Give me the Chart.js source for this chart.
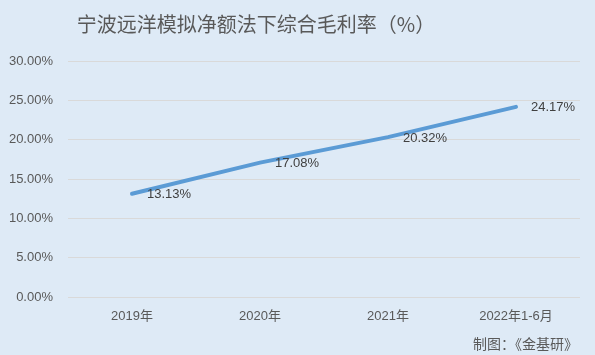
<!DOCTYPE html>
<html>
<head>
<meta charset="utf-8">
<script src="https://cdn.jsdelivr.net/npm/chart.js@4/dist/chart.umd.min.js"></script>
<style>
  html, body { margin: 0; padding: 0; background: #DEEAF6; }
  #wrap { width: 595px; height: 355px; }
</style>
</head>
<body>
<div id="wrap"><canvas id="chart" width="595" height="355"></canvas></div>
<script>
// --- 数据 ---
const categories = ["2019年", "2020年", "2021年", "2022年1-6月"];
const marginValues = [13.13, 17.08, 20.32, 24.17];
const yTicks = [0, 5, 10, 15, 20, 25, 30];

const titleText = "宁波远洋模拟净额法下综合毛利率（%）";
const creditText = "制图：《金基研》";

const textColor = "#595959";
const latin = "'Liberation Sans', Arial, sans-serif";
const cjk = "'Liberation Sans', 'Noto Sans CJK SC', sans-serif";

// 背景 + 标题 + 数据标签
const decor = {
  id: "decor",
  beforeDraw(chart) {
    const ctx = chart.ctx;
    ctx.save();
    ctx.fillStyle = "#DEEAF6";
    ctx.fillRect(0, 0, chart.width, chart.height);
    ctx.restore();
  },
  afterDraw(chart) {
    const ctx = chart.ctx;
    ctx.save();
    ctx.fillStyle = textColor;
    ctx.textBaseline = "middle";
    ctx.textAlign = "center";
    ctx.font = "20px 'Noto Sans CJK SC', sans-serif";
    ctx.fillText(titleText, 256, 24);

    ctx.textAlign = "right";
    ctx.font = "14px 'Noto Sans CJK SC', sans-serif";
    ctx.fillText(creditText, 578, 344);

    // 数据标签在点的右侧
    ctx.fillStyle = "#404040";
    ctx.textAlign = "left";
    ctx.font = "13px " + latin;
    const meta = chart.getDatasetMeta(0);
    meta.data.forEach((pt, i) => {
      ctx.fillText(marginValues[i].toFixed(2) + "%", pt.x + 15, pt.y + 1);
    });
    ctx.restore();
  }
};

new Chart(document.getElementById("chart"), {
  type: "line",
  data: {
    labels: categories,
    datasets: [{
      data: marginValues,
      borderColor: "#5B9BD5",
      borderWidth: 4,
      borderCapStyle: "round",
      pointRadius: 0,
      tension: 0,
      fill: false,
    }],
  },
  options: {
    responsive: false,
    animation: false,
    layout: { padding: { left: 0, right: 15, top: 61, bottom: 28 } },
    plugins: {
      legend: { display: false },
      tooltip: { enabled: false },
    },
    scales: {
      x: {
        offset: true,
        grid: { display: false, drawTicks: false },
        border: { display: false },
        ticks: { color: textColor, font: { size: 13, family: cjk }, padding: 12, maxRotation: 0 },
        afterFit(scale) { scale.height = 30; },
      },
      y: {
        min: 0,
        max: 30,
        afterBuildTicks(scale) { scale.ticks = yTicks.map(v => ({ value: v })); },
        grid: { color: "#D9D9D9", drawTicks: false },
        border: { display: false },
        ticks: {
          color: textColor,
          font: { size: 13, family: latin },
          padding: 15,
          callback: v => v.toFixed(2) + "%",
        },
        afterFit(scale) { scale.width = 68; },
      },
    },
  },
  plugins: [decor],
});
</script>
</body>
</html>
